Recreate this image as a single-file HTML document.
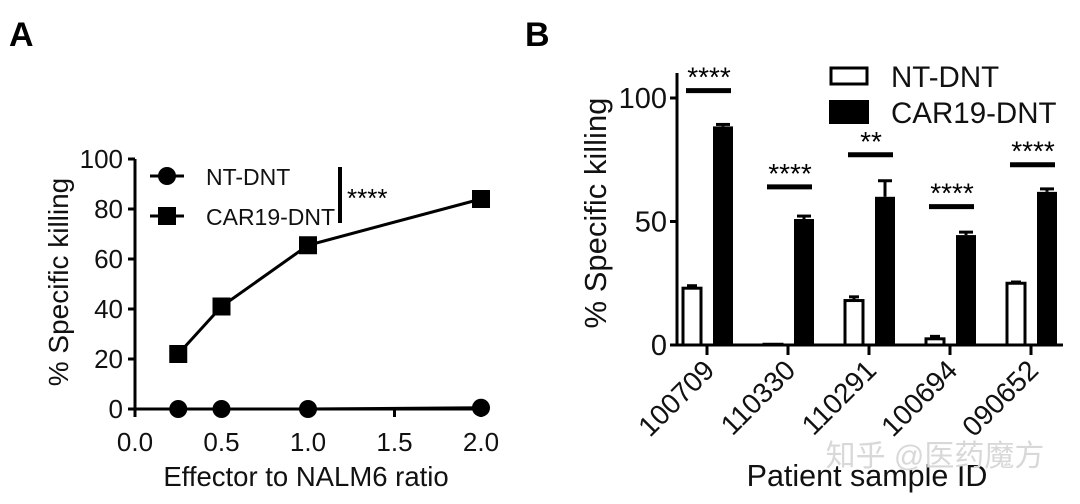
<!DOCTYPE html>
<html><head><meta charset="utf-8"><style>
html,body{margin:0;padding:0;background:#fff}
svg{display:block;font-family:"Liberation Sans","Noto Sans CJK SC",sans-serif}
</style></head><body>
<svg id="fig" width="1080" height="504" viewBox="0 0 1080 504">
<text x="9" y="46" font-size="34" font-weight="bold">A</text>
<text x="525" y="46" font-size="34" font-weight="bold">B</text>
<g id="pa"></g>
<g id="pb"></g>
<text x="935" y="466" font-size="30" fill="#d8d8d8" text-anchor="middle">知乎 @医药魔方</text>
</svg>
<script>
// Panel A data
const ratios = [0.25, 0.5, 1.0, 2.0];
const ntA = [0, 0, 0, 0.5];
const carA = [22, 41, 65.5, 84];
const carAErr = [1.5, 1.5, 1.5, 3];
const aXTicks = ["0.0","0.5","1.0","1.5","2.0"];
const aYTicks = [0,20,40,60,80,100];
// Panel B data
const patients = ["100709","110330","110291","100694","090652"];
const ntB = [23, 0.3, 18, 2.5, 25];
const ntBErr = [1, 0, 1.5, 1, 0.5];
const carB = [88.5, 51, 60, 44.5, 62];
const carBErr = [0.8, 1.2, 6.5, 1.2, 1.2];
const sigLevels = [103, 64, 77, 56, 73];
const sigLabels = ["****","****","**","****","****"];
const bYTicks = [0,50,100];

const NS="http://www.w3.org/2000/svg";
function mk(parent,tag,attrs,txt){const e=document.createElementNS(NS,tag);for(const k in attrs)e.setAttribute(k,attrs[k]);if(txt!==undefined)e.textContent=txt;parent.appendChild(e);return e;}

// ---- Panel A
const pa=document.getElementById('pa');
const ax=v=>135+v*173, ay=v=>409-v*2.5;
let e;
e=mk(pa,'line',{x1:135,y1:ay(100),x2:135,y2:ay(0)+7,stroke:'#000','stroke-width':3});


e=mk(pa,'line',{x1:128,y1:ay(0),x2:ax(2.02),y2:ay(0),stroke:'#000','stroke-width':3});


aYTicks.forEach(t=>{
  mk(pa,'line',{x1:128,y1:ay(t),x2:135,y2:ay(t),stroke:'#000','stroke-width':3});
  e=mk(pa,'text',{x:123,y:ay(t)+9,'font-size':26,'text-anchor':'end',fill:'#111'},String(t));
  
  
});
aXTicks.forEach(t=>{
  const v=parseFloat(t);
  mk(pa,'line',{x1:ax(v),y1:ay(0),x2:ax(v),y2:ay(0)+8,stroke:'#000','stroke-width':3});
  e=mk(pa,'text',{x:ax(v),y:451,'font-size':26,'text-anchor':'middle',fill:'#111'},t);
  
  
});
e=mk(pa,'text',{x:306,y:486,'font-size':27.5,'text-anchor':'middle',fill:'#111'},'Effector to NALM6 ratio');


e=mk(pa,'text',{x:0,y:0,'font-size':28,'text-anchor':'middle',transform:'translate(68,282) rotate(-90)',fill:'#111'},'% Specific killing');


e=mk(pa,'polyline',{points:ratios.map((r,i)=>ax(r)+','+ay(carA[i])).join(' '),fill:'none',stroke:'#000','stroke-width':3});


e=mk(pa,'polyline',{points:ratios.map((r,i)=>ax(r)+','+ay(ntA[i])).join(' '),fill:'none',stroke:'#000','stroke-width':3});


ratios.forEach((r,i)=>{
  mk(pa,'line',{x1:ax(r),y1:ay(carA[i]+carAErr[i]),x2:ax(r),y2:ay(carA[i]-carAErr[i]),stroke:'#000','stroke-width':3});
  e=mk(pa,'rect',{x:ax(r)-9,y:ay(carA[i])-9,width:18,height:18,fill:'#000'});
  
  
  e=mk(pa,'circle',{cx:ax(r),cy:ay(ntA[i]),r:9,fill:'#000'});
  
  
});
mk(pa,'line',{x1:150,y1:176,x2:184,y2:176,stroke:'#000','stroke-width':3});
e=mk(pa,'circle',{cx:167,cy:176,r:9,fill:'#000'});


e=mk(pa,'text',{x:206,y:185,'font-size':23,fill:'#111'},'NT-DNT');


mk(pa,'line',{x1:150,y1:216,x2:184,y2:216,stroke:'#000','stroke-width':3});
e=mk(pa,'rect',{x:158,y:207,width:18,height:18,fill:'#000'});


e=mk(pa,'text',{x:206,y:225,'font-size':23,fill:'#111'},'CAR19-DNT');


e=mk(pa,'line',{x1:340,y1:167,x2:340,y2:223,stroke:'#000','stroke-width':4});


e=mk(pa,'text',{x:347,y:207,'font-size':26},'****');



// ---- Panel B
const pb=document.getElementById('pb');
const by=v=>345-v*2.47, bx=i=>707+i*81;
e=mk(pb,'line',{x1:677,y1:73,x2:677,y2:346,stroke:'#000','stroke-width':3});


e=mk(pb,'line',{x1:670,y1:by(0),x2:1063,y2:by(0),stroke:'#000','stroke-width':3});


bYTicks.forEach(t=>{
  mk(pb,'line',{x1:670,y1:by(t),x2:677,y2:by(t),stroke:'#000','stroke-width':3});
  e=mk(pb,'text',{x:667,y:by(t)+10,'font-size':29,'text-anchor':'end',fill:'#111'},String(t));
  
  
});
patients.forEach((p,i)=>{
  const c=bx(i);
  mk(pb,'line',{x1:c,y1:by(0),x2:c,y2:by(0)+10,stroke:'#000','stroke-width':3});
  e=mk(pb,'text',{x:0,y:0,'font-size':28,'text-anchor':'end',transform:`translate(${c+9},${372}) rotate(-45)`,fill:'#111'},p);
  
  
  const nx=c-15;
  if(ntBErr[i]>0) mk(pb,'line',{x1:nx-5,y1:by(ntB[i]+ntBErr[i]),x2:nx+5,y2:by(ntB[i]+ntBErr[i]),stroke:'#000','stroke-width':3});
  mk(pb,'line',{x1:nx,y1:by(ntB[i]+ntBErr[i]),x2:nx,y2:by(ntB[i]),stroke:'#000','stroke-width':3});
  e=mk(pb,'rect',{x:nx-9,y:by(ntB[i]),width:18,height:Math.max(0.5,by(0)-by(ntB[i])),fill:'#fff',stroke:'#000','stroke-width':3});
  
  
  const cx=c+16;
  mk(pb,'line',{x1:cx,y1:by(carB[i]+carBErr[i]),x2:cx,y2:by(carB[i]),stroke:'#000','stroke-width':3});
  mk(pb,'line',{x1:cx-7,y1:by(carB[i]+carBErr[i]),x2:cx+7,y2:by(carB[i]+carBErr[i]),stroke:'#000','stroke-width':3});
  e=mk(pb,'rect',{x:cx-10,y:by(carB[i]),width:20,height:by(0)-by(carB[i]),fill:'#000'});
  
  
  e=mk(pb,'line',{x1:c-21,y1:by(sigLevels[i]),x2:c+24,y2:by(sigLevels[i]),stroke:'#000','stroke-width':5});
  
  
  e=mk(pb,'text',{x:c+2,y:by(sigLevels[i])-4,'font-size':28,'text-anchor':'middle'},sigLabels[i]);
  
  
});
e=mk(pb,'text',{x:0,y:0,'font-size':31,'text-anchor':'middle',transform:'translate(606,213) rotate(-90)',fill:'#111'},'% Specific killing');


e=mk(pb,'text',{x:867,y:486,'font-size':30.5,'text-anchor':'middle',fill:'#111'},'Patient sample ID');


e=mk(pb,'rect',{x:831,y:68,width:36,height:16,fill:'#fff',stroke:'#000','stroke-width':3});


e=mk(pb,'text',{x:891,y:87,'font-size':29.5,fill:'#111'},'NT-DNT');


e=mk(pb,'rect',{x:829,y:100,width:40,height:24,fill:'#000'});


e=mk(pb,'text',{x:891,y:123,'font-size':29.5,fill:'#111'},'CAR19-DNT');


</script>
</body></html>
